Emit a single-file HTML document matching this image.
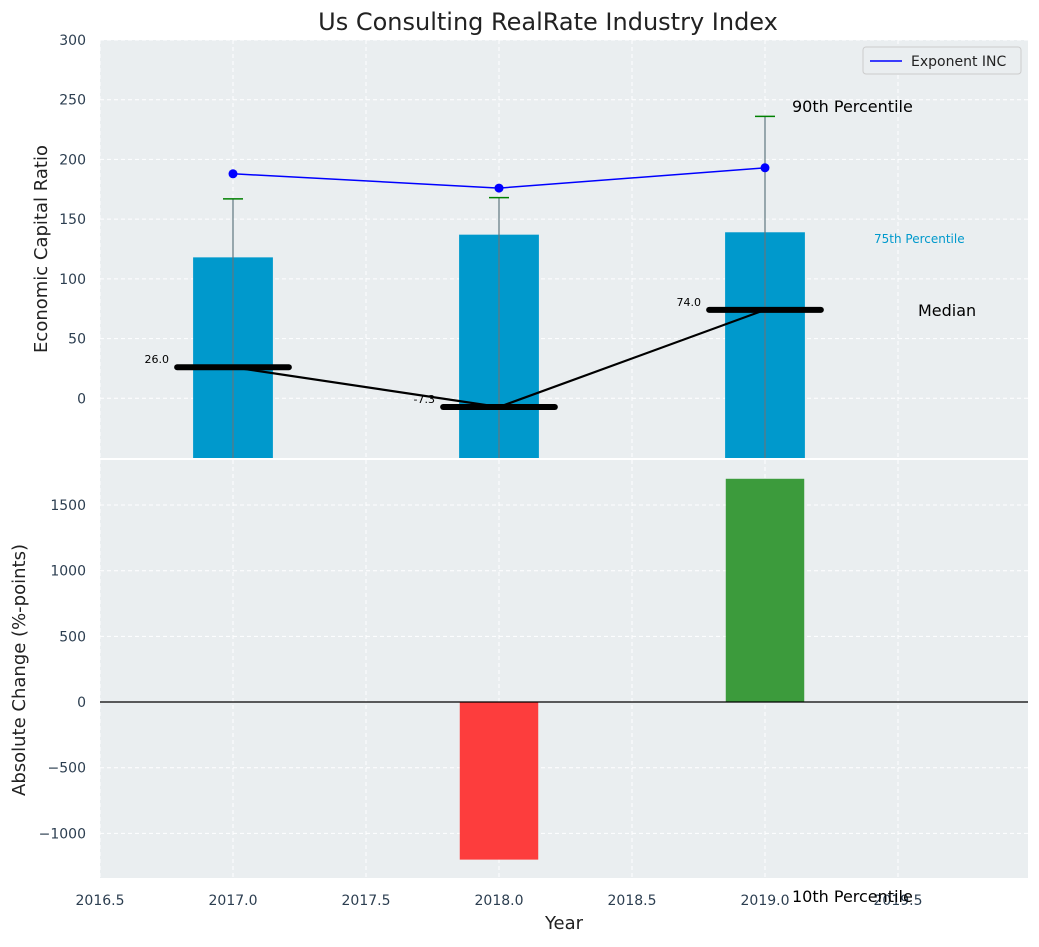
<!DOCTYPE html>
<html><head><meta charset="utf-8"><style>
body{margin:0;background:#fff;font-family:"Liberation Sans","DejaVu Sans",sans-serif}
svg text{font-family:"DejaVu Sans","Liberation Sans",sans-serif}
</style></head><body>
<svg id="c" width="1039" height="942" xmlns="http://www.w3.org/2000/svg"></svg>
<script>
const years=[2017,2018,2019];
const p75=[118,137,139];
const p90=[167,168,236];
const p10=[-60,-60,-60];
const medians=[26,-7.3,74];
const medianLabels=["26.0","-7.3","74.0"];
const exponent=[188,176,193];
const changeYears=[2018,2019];
const changes=[-1200,1700];
const xTicks=[2016.5,2017,2017.5,2018,2018.5,2019,2019.5];
const yTopTicks=[0,50,100,150,200,250,300];
const yBotTicks=[-1000,-500,0,500,1000,1500];

const NS="http://www.w3.org/2000/svg";
const svg=document.getElementById('c');
function el(t,a,txt){const e=document.createElementNS(NS,t);for(const k in a)e.setAttribute(k,a[k]);if(txt!==undefined)e.textContent=txt;svg.appendChild(e);return e;}
const L=100,R=1028,PX=266;
const X=v=>L+(v-2016.5)*PX;
const T0=40,T1=458,Yt=v=>T0+(300-v)*(T1-T0)/350;
const B0=460,B1=878,bmin=-1340,bmax=1843,Yb=v=>B0+(bmax-v)*(B1-B0)/(bmax-bmin);

let e;
e=el('rect',{x:L,y:T0,width:R-L,height:T1-T0,fill:'#eaeef0'});

e=el('rect',{x:L,y:B0,width:R-L,height:B1-B0,fill:'#eaeef0'});

xTicks.forEach(t=>{
  e=el('line',{x1:X(t),x2:X(t),y1:T0,y2:T1,stroke:'#fff','stroke-dasharray':'4,3'});
  
  e=el('line',{x1:X(t),x2:X(t),y1:B0,y2:B1,stroke:'#fff','stroke-dasharray':'4,3'});
  
  e=el('text',{x:X(t),y:905,'text-anchor':'middle','font-size':14,fill:'#2c3e50'},t.toFixed(1));
  
});
yTopTicks.forEach(t=>{
  e=el('line',{x1:L,x2:R,y1:Yt(t),y2:Yt(t),stroke:'#fff','stroke-dasharray':'4,3'});
  
  e=el('text',{x:86,y:Yt(t)+5,'text-anchor':'end','font-size':14,fill:'#2c3e50'},t);
  
});
yBotTicks.forEach(t=>{
  e=el('line',{x1:L,x2:R,y1:Yb(t),y2:Yb(t),stroke:'#fff','stroke-dasharray':'4,3'});
  
  e=el('text',{x:86,y:Yb(t)+5,'text-anchor':'end','font-size':14,fill:'#2c3e50'},t<0?'\u2212'+(-t):t);
  
});
const bw=PX*0.3;
years.forEach((y,i)=>{
  e=el('rect',{x:X(y)-bw/2,y:Yt(p75[i]),width:bw,height:T1-Yt(p75[i]),fill:'#0099cc'});
  
  e=el('line',{x1:X(y),x2:X(y),y1:Yt(p90[i]),y2:Math.min(T1,Yt(p10[i])),stroke:'#607880','stroke-width':1.2});
  
  e=el('line',{x1:X(y)-10,x2:X(y)+10,y1:Yt(p90[i]),y2:Yt(p90[i]),stroke:'green','stroke-width':1.5});
  
});
e=el('polyline',{points:years.map((y,i)=>X(y)+','+Yt(exponent[i])).join(' '),fill:'none',stroke:'blue','stroke-width':1.5});

years.forEach((y,i)=>{e=el('circle',{cx:X(y),cy:Yt(exponent[i]),r:4.5,fill:'blue'});
  });
e=el('polyline',{points:years.map((y,i)=>X(y)+','+Yt(medians[i])).join(' '),fill:'none',stroke:'#000','stroke-width':2.2});

const mw=PX*0.21;
years.forEach((y,i)=>{
  e=el('line',{x1:X(y)-mw,x2:X(y)+mw,y1:Yt(medians[i]),y2:Yt(medians[i]),stroke:'#000','stroke-width':6,'stroke-linecap':'round'});
  
  e=el('text',{x:X(y)-64,y:Yt(medians[i])-4,'text-anchor':'end','font-size':11,fill:'#000'},medianLabels[i]);
  
});
[['90th Percentile',792,112,16,'#000','p90-annotation'],['75th Percentile',874,243,12,'#0099cc','p75-annotation'],['Median',918,316,16,'#000','median-annotation'],['10th Percentile',792,902,16,'#000','p10-annotation']].forEach(a=>{
  e=el('text',{x:a[1],y:a[2],'font-size':a[3],fill:a[4]},a[0]);
  
});
e=el('rect',{x:863,y:47,width:158,height:27,fill:'#eaeef0',stroke:'#ccc',rx:3});

e=el('line',{x1:870,x2:902,y1:61,y2:61,stroke:'blue','stroke-width':1.5});

e=el('text',{x:911,y:66,'font-size':14,fill:'#222'},'Exponent INC');

const bw2=PX*0.295;
changeYears.forEach((y,i)=>{
  const v=changes[i];
  e=el('rect',{x:X(y)-bw2/2,y:Math.min(Yb(v),Yb(0)),width:bw2,height:Math.abs(Yb(v)-Yb(0)),fill:v<0?'#fd3d3d':'#3c9b3c'});
  
});
e=el('line',{x1:L,x2:R,y1:Yb(0),y2:Yb(0),stroke:'#000','stroke-width':1.2});

e=el('text',{x:548,y:30,'text-anchor':'middle','font-size':24,fill:'#222'},'Us Consulting RealRate Industry Index');

e=el('text',{x:0,y:0,'text-anchor':'middle','font-size':18,fill:'#222',transform:'translate(47,249) rotate(-90)'},'Economic Capital Ratio');

e=el('text',{x:0,y:0,'text-anchor':'middle','font-size':18,fill:'#222',transform:'translate(25,670) rotate(-90)'},'Absolute Change (%-points)');

e=el('text',{x:564,y:929,'text-anchor':'middle','font-size':18,fill:'#222'},'Year');

</script>
</body></html>
